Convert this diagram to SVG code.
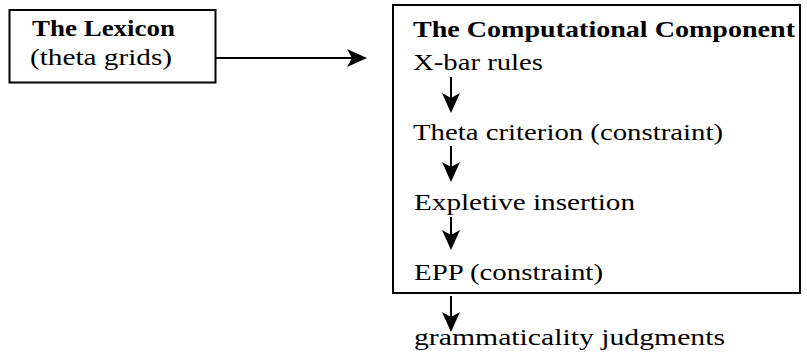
<svg xmlns="http://www.w3.org/2000/svg" width="807" height="358" viewBox="0 0 807 358">
<style>
.box{fill:#fff;stroke:#000;stroke-width:2}
.t{font-family:'Liberation Serif', Tinos, 'Times New Roman', Times, serif;font-size:24px;fill:#000}
.b{font-weight:bold}
.c{stroke:#000;stroke-width:2;fill:none}
</style>
<defs>
<marker id="ah" viewBox="0 0 20 20" refX="5" refY="10" markerWidth="20" markerHeight="20" markerUnits="userSpaceOnUse" orient="auto">
<path d="M0,1 L20,10 L0,19 L5,10 Z" fill="#000"/>
</marker>
</defs>
<rect width="807" height="358" fill="#fff"/>
<g id="lexicon">
<rect class="box" x="9.5" y="10" width="206" height="72.5"/>
<text class="t b" x="32" y="36" textLength="143" lengthAdjust="spacingAndGlyphs">The Lexicon</text>
<text class="t" x="30" y="65" textLength="142" lengthAdjust="spacingAndGlyphs">(theta grids)</text>
</g>
<g id="computational">
<rect class="box" x="393" y="5" width="407" height="288"/>
<text class="t b" x="413" y="37" textLength="382" lengthAdjust="spacingAndGlyphs">The Computational Component</text>
<text class="t" x="413" y="70" textLength="130" lengthAdjust="spacingAndGlyphs">X-bar rules</text>
<text class="t" x="413" y="140" textLength="310" lengthAdjust="spacingAndGlyphs">Theta criterion (constraint)</text>
<text class="t" x="414" y="210" textLength="221" lengthAdjust="spacingAndGlyphs">Expletive insertion</text>
<text class="t" x="414" y="280" textLength="189" lengthAdjust="spacingAndGlyphs">EPP (constraint)</text>
</g>
<g id="judgments">
<text class="t" x="414" y="345" textLength="311" lengthAdjust="spacingAndGlyphs">grammaticality judgments</text>
</g>
<g id="connectors">
<line class="c" x1="216" y1="58" x2="352" y2="58" marker-end="url(#ah)"/>
<line class="c" x1="451" y1="77" x2="451" y2="98" marker-end="url(#ah)"/>
<line class="c" x1="451" y1="146" x2="451" y2="167" marker-end="url(#ah)"/>
<line class="c" x1="451" y1="217" x2="451" y2="235" marker-end="url(#ah)"/>
<line class="c" x1="451" y1="296" x2="451" y2="317" marker-end="url(#ah)"/>
</g>
</svg>
